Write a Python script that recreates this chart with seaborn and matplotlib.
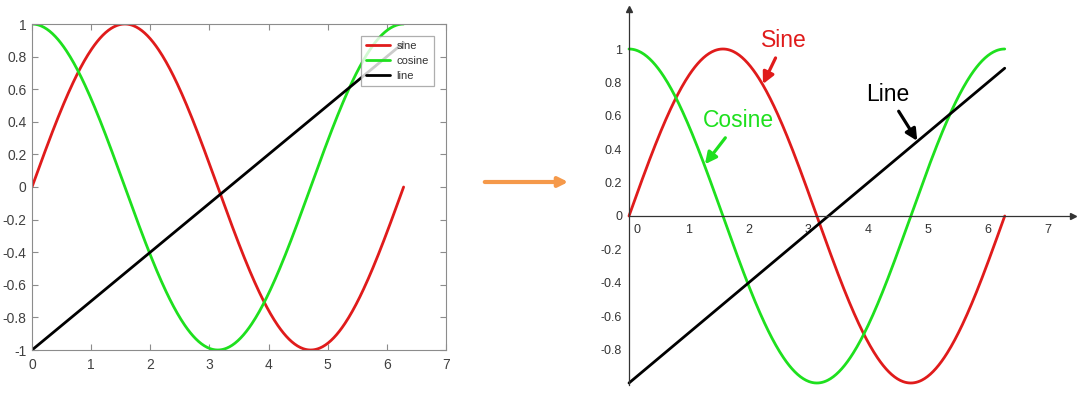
import numpy as np
import pandas as pd
import matplotlib
matplotlib.use("Agg")
import matplotlib.pyplot as plt
import seaborn as sns
from matplotlib.patches import FancyArrowPatch
from matplotlib.transforms import ScaledTranslation

# ---------------- data ----------------
x_vals = np.linspace(0, 2 * np.pi, 400)
sine_vals = np.sin(x_vals)
cosine_vals = np.cos(x_vals)
line_x = [0.0, 6.283]
line_y = [-1.0, 0.885]

series_names = ["sine", "cosine", "line"]
series_colors = ["#E01B1B", "#1EE01E", "#000000"]

left_xticks = [0, 1, 2, 3, 4, 5, 6, 7]
left_yticks = [-1, -0.8, -0.6, -0.4, -0.2, 0, 0.2, 0.4, 0.6, 0.8, 1]
left_ylabels = ["-1", "-0.8", "-0.6", "-0.4", "-0.2", "0", "0.2", "0.4", "0.6", "0.8", "1"]

right_xticks = [0, 1, 2, 3, 4, 5, 6, 7]
right_yticks = [-0.8, -0.6, -0.4, -0.2, 0, 0.2, 0.4, 0.6, 0.8, 1]
right_ylabels = ["-0.8", "-0.6", "-0.4", "-0.2", "0", "0.2", "0.4", "0.6", "0.8", "1"]

annot_texts = ["Sine", "Cosine", "Line"]

df_curves = pd.DataFrame({"x": x_vals, "sine": sine_vals, "cosine": cosine_vals})
df_line = pd.DataFrame({"x": line_x, "line": line_y})

# ---------------- style ----------------
sns.set_style("white")
plt.rcParams["font.family"] = ["Liberation Sans", "DejaVu Sans"]

W, H = 1091, 399
fig = plt.figure(figsize=(W / 100, H / 100), dpi=100)

def px_axes(l, t, r, b):
    return fig.add_axes([l / W, 1 - b / H, (r - l) / W, (b - t) / H])

# ---------------- left panel ----------------
axL = px_axes(32, 24, 446, 350)
sns.lineplot(data=df_curves, x="x", y="sine", ax=axL, color=series_colors[0], lw=2.0, label=series_names[0])
sns.lineplot(data=df_curves, x="x", y="cosine", ax=axL, color=series_colors[1], lw=2.0, label=series_names[1])
sns.lineplot(data=df_line, x="x", y="line", ax=axL, color=series_colors[2], lw=2.0, label=series_names[2])
axL.set_xlim(0, 7)
axL.set_ylim(-1, 1)
axL.set_xticks(left_xticks)
axL.set_xticklabels([str(v) for v in left_xticks])
axL.set_yticks(left_yticks)
axL.set_yticklabels(left_ylabels)
axL.set_xlabel("")
axL.set_ylabel("")
for s in axL.spines.values():
    s.set_visible(True)
    s.set_color("#8c8c8c")
    s.set_linewidth(0.8)
axL.tick_params(direction="in", length=4, width=0.8, color="#8c8c8c",
                labelsize=10, labelcolor="#404040", top=True, right=True,
                bottom=True, left=True)
axL.tick_params(axis="x", pad=6)
axL.tick_params(axis="y", pad=4)
leg = axL.legend(loc="upper right", bbox_to_anchor=(0.971, 0.962), borderaxespad=0,
                 fontsize=8, frameon=True, fancybox=False, handlelength=2.2,
                 handletextpad=0.6, borderpad=0.45, labelspacing=0.45)
leg.get_frame().set_edgecolor("#9a9a9a")
leg.get_frame().set_linewidth(0.9)
for t in leg.get_texts():
    t.set_color("#333333")

# ---------------- right panel ----------------
x0p, y0p = 629, 216
ux, uy = 59.8, 167.0
xmin, xmax = -0.1, 7.5
ymin, ymax = -1.02, 1.28
axR = px_axes(x0p + xmin * ux, y0p - ymax * uy, x0p + xmax * ux, y0p - ymin * uy)
sns.lineplot(data=df_curves, x="x", y="sine", ax=axR, color=series_colors[0], lw=2.0, legend=False)
sns.lineplot(data=df_curves, x="x", y="cosine", ax=axR, color=series_colors[1], lw=2.0, legend=False)
sns.lineplot(data=df_line, x="x", y="line", ax=axR, color=series_colors[2], lw=2.0, legend=False)
axR.set_xlim(xmin, xmax)
axR.set_ylim(ymin, ymax)
axR.set_xlabel("")
axR.set_ylabel("")
axR.spines["top"].set_visible(False)
axR.spines["right"].set_visible(False)
axR.spines["left"].set_position(("data", 0))
axR.spines["bottom"].set_position(("data", 0))
axR.spines["left"].set_bounds(-1.01, 1.24)
axR.spines["bottom"].set_bounds(0, 7.42)
for k in ("left", "bottom"):
    axR.spines[k].set_visible(True)
    axR.spines[k].set_color("#333333")
    axR.spines[k].set_linewidth(0.9)
axR.plot([7.42], [0], marker=">", color="#333333", markersize=5, clip_on=False)
axR.plot([0], [1.24], marker="^", color="#333333", markersize=5, clip_on=False)
axR.set_xticks(right_xticks)
axR.set_xticklabels([str(v) for v in right_xticks])
axR.set_yticks(right_yticks)
axR.set_yticklabels(right_ylabels)
axR.tick_params(axis="both", direction="in", length=3, width=0.8, color="#555555",
                labelsize=9, labelcolor="#333333")
axR.tick_params(axis="x", pad=6)
axR.tick_params(axis="y", pad=5)
# shift the "0" x label right so it clears the y axis
lbl0 = axR.get_xticklabels()[0]
lbl0.set_transform(lbl0.get_transform() + ScaledTranslation(6 / 72, 0, fig.dpi_scale_trans))

annot_style = dict(arrowstyle="-|>", lw=2.3, mutation_scale=17, shrinkA=2, shrinkB=0)
axR.annotate(annot_texts[0], xy=(2.24, 0.79), xytext=(2.59, 1.05), color=series_colors[0],
             fontsize=16.5, ha="center", va="center",
             arrowprops=dict(color=series_colors[0], **annot_style))
axR.annotate(annot_texts[1], xy=(1.27, 0.31), xytext=(1.83, 0.57), color=series_colors[1],
             fontsize=16.5, ha="center", va="center",
             arrowprops=dict(color=series_colors[1], **annot_style))
axR.annotate(annot_texts[2], xy=(4.82, 0.45), xytext=(4.33, 0.73), color=series_colors[2],
             fontsize=16.5, ha="center", va="center",
             arrowprops=dict(color=series_colors[2], **annot_style))

# ---------------- orange arrow between panels ----------------
arr = FancyArrowPatch((482 / W, 1 - 182 / H), (571 / W, 1 - 182 / H),
                      transform=fig.transFigure, arrowstyle="-|>", mutation_scale=14,
                      lw=3, color="#F5994A")
fig.add_artist(arr)

fig.savefig("out.png", dpi=100)
